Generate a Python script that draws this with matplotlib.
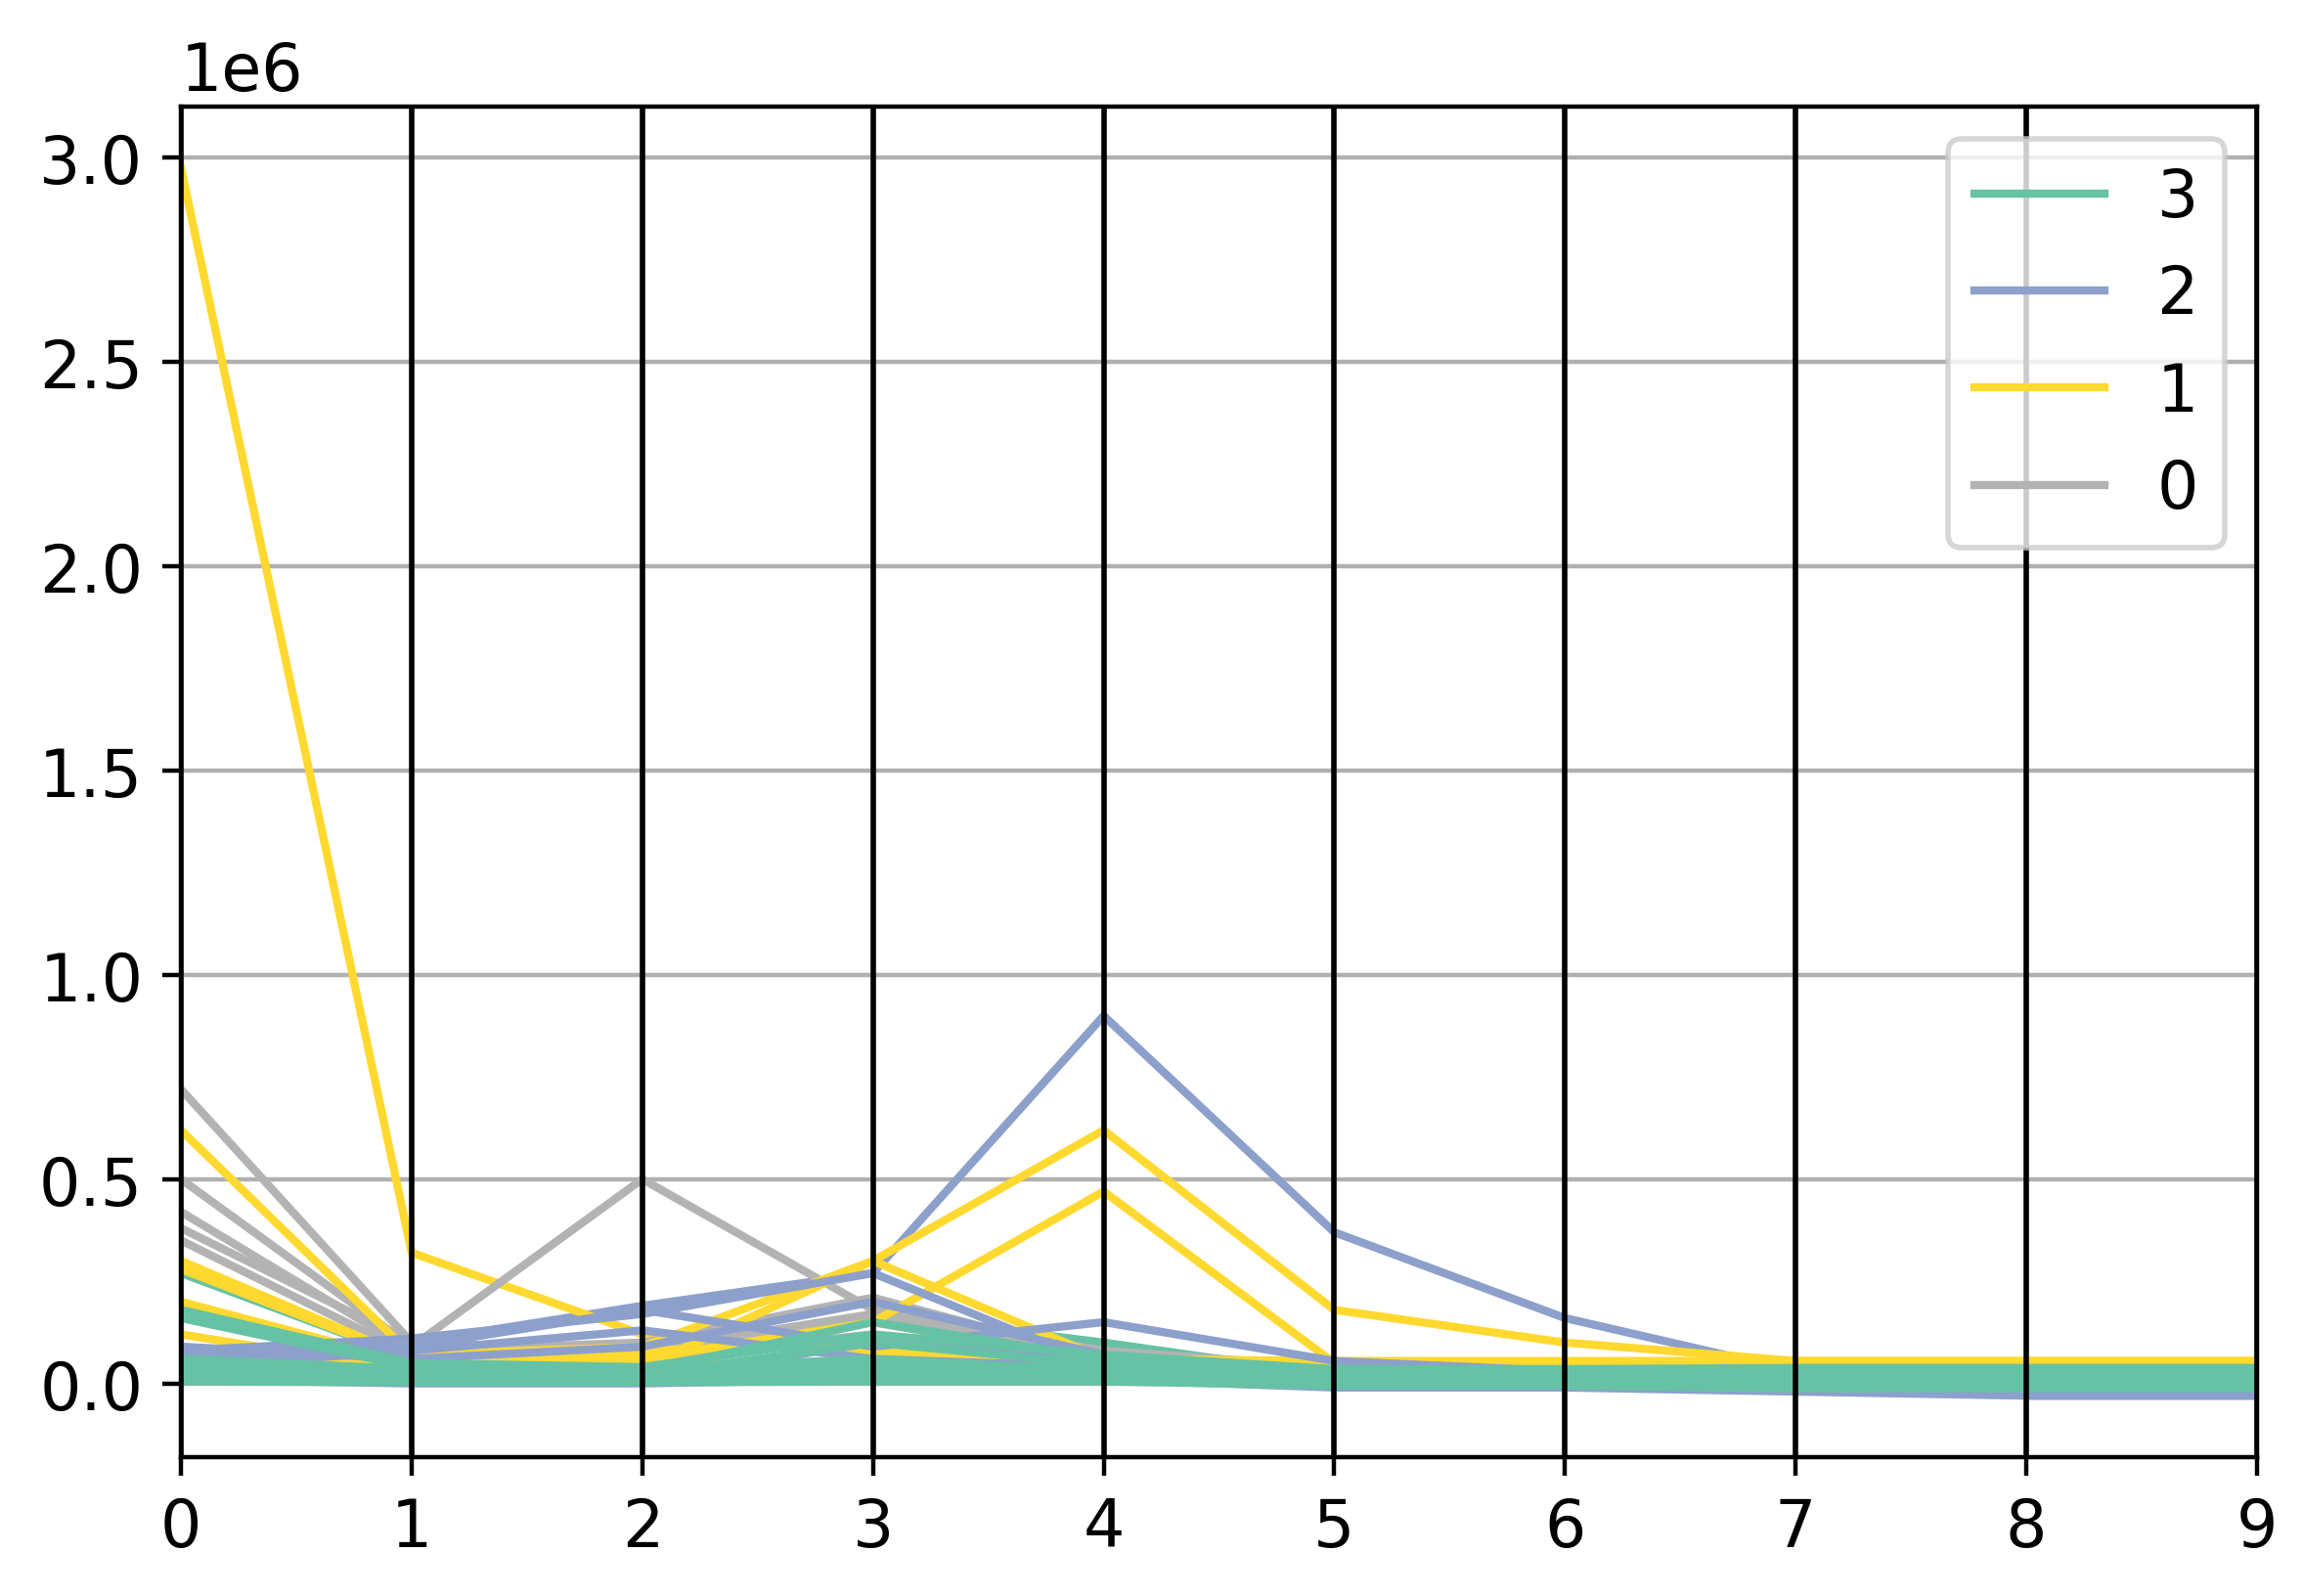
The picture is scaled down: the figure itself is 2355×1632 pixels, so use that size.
import numpy as np
import pandas as pd
import matplotlib
matplotlib.use("Agg")
import matplotlib.pyplot as plt
from pandas.plotting import parallel_coordinates

# values in thousands, columns 0..9
green_rows = [
    [270, 60, 40, 170, 100, 20, 20, 10, 10, 10],
    [160, 40, 30, 150, 60, 10, 10, 5, 5, 5],
    [50, 30, 30, 40, 40, 20, 20, 20, 20, 20],
    [40, 20, 20, 30, 30, 15, 15, 15, 15, 15],
    [30, 25, 25, 25, 25, 25, 25, 25, 25, 25],
    [20, 15, 10, 20, 20, 10, 10, 0, 0, 0],
    [60, 35, 35, 60, 30, 30, 30, 30, 30, 30],
    [10, 10, 10, 10, 10, 0, 0, -5, -5, -5],
    [35, 5, 5, 15, 15, 5, 5, -10, -10, -10],
    [180, 50, 40, 120, 70, 35, 35, 38, 38, 38],
    [25, 20, 20, 100, 45, 20, 20, 20, 20, 20],
    [15, 12, 15, 50, 12, 0, 0, -2, -2, -2],
    [45, 28, 20, 35, 35, 22, 22, 32, 32, 32],
    [5, 3, 3, 5, 5, -5, -5, -12, -12, -12],
    [28, 18, 12, 22, 18, 12, 12, 8, 8, 8],
]
blue_rows = [
    [60, 100, 190, 270, 900, 370, 160, 30, -20, -20],
    [80, 110, 170, 270, 40, 30, 30, 10, -25, -25],
    [70, 90, 180, 90, 150, 55, 30, 10, -20, -20],
    [40, 80, 130, 60, 40, 20, 10, 0, -30, -30],
    [85, 20, 10, 100, 60, 10, 10, 0, -25, -25],
    [20, 5, 5, 30, 20, 0, -5, -15, -28, -28],
    [90, 60, 90, 200, 70, 30, 20, 0, -22, -22],
    [10, 0, 0, 10, 10, -10, -10, -20, -30, -30],
]
yellow_rows = [
    [2975, 320, 120, 80, 50, 50, 50, 50, 50, 50],
    [620, 70, 90, 300, 620, 180, 100, 55, 55, 55],
    [300, 60, 60, 150, 470, 50, 50, 50, 50, 50],
    [200, 50, 80, 100, 50, 50, 50, 50, 50, 50],
    [280, 60, 40, 300, 60, 55, 55, 55, 55, 55],
    [120, 30, 60, 20, 10, 5, 5, 45, 45, 45],
    [50, 10, 20, 10, 20, 10, 10, 45, 45, 45],
]
grey_rows = [
    [720, 100, 80, 170, 60, 30, 30, 30, 30, 30],
    [500, 90, 500, 180, 80, 40, 40, 40, 40, 40],
    [420, 80, 100, 210, 60, 40, 40, 40, 40, 40],
    [380, 100, 80, 150, 50, 30, 30, 30, 30, 30],
    [350, 70, 60, 120, 40, 30, 30, 30, 30, 30],
]

# first appearance order gives legend order 3, 2, 1, 0
rows = [(3, green_rows[0]), (2, blue_rows[0]), (1, yellow_rows[0]), (0, grey_rows[0])]
rows += [(0, r) for r in grey_rows[1:]]
rows += [(1, r) for r in yellow_rows[1:]]
rows += [(2, r) for r in blue_rows[1:]]
rows += [(3, r) for r in green_rows[1:]]

df = pd.DataFrame([np.array(r) * 1000.0 for _, r in rows], columns=list(range(10)))
df["cluster"] = [c for c, _ in rows]

plt.rcParams["font.size"] = 12
fig = plt.figure(figsize=(2355 / 400, 1633 / 400), dpi=400)
ax = fig.add_subplot(111)
parallel_coordinates(df, "cluster", colormap="Set2", ax=ax)
fig.subplots_adjust(left=0.0786, right=0.980, top=0.9326, bottom=0.087)
fig.savefig("out.png", dpi=400)
